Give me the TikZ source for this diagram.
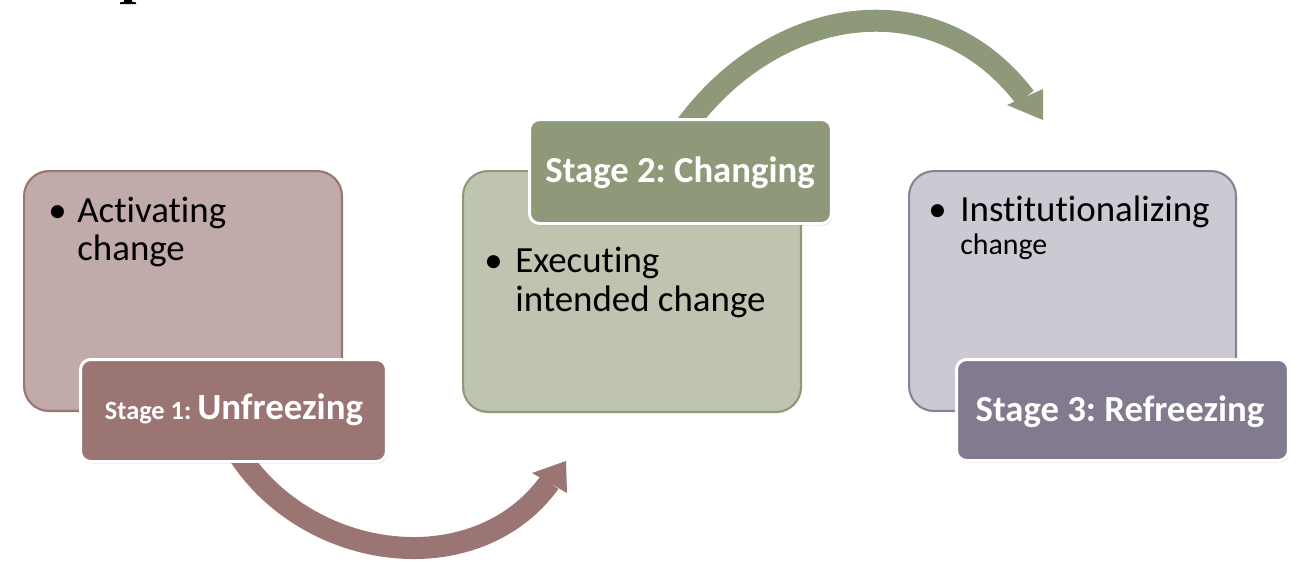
\documentclass[tikz,border=0pt]{standalone}
\usepackage{fontspec}
\setmainfont{Carlito}[Ligatures=NoCommon]
\usetikzlibrary{shadows}
\definecolor{rosefill}{HTML}{C1AAAA}
\definecolor{roseline}{HTML}{9B7574}
\definecolor{rosedark}{HTML}{9B7573}
\definecolor{sagefill}{HTML}{BEC4B0}
\definecolor{sageline}{HTML}{8E9979}
\definecolor{sagedark}{HTML}{8E9979}
\definecolor{lilacfill}{HTML}{CDC9D3}
\definecolor{lilacline}{HTML}{8A8299}
\definecolor{lilacdark}{HTML}{827A8F}
\frenchspacing
\begin{document}
\begin{tikzpicture}[x=0.02cm,y=-0.02cm,
  bigbox/.style={draw, line width=1.2pt, rounded corners=0.5cm, anchor=north west, inner sep=0pt},
  stagebox/.style={draw=white, line width=1.7pt, rounded corners=0.2cm, inner sep=0pt,
    drop shadow={shadow xshift=0.6pt, shadow yshift=-1pt, opacity=0.35}},
  bodytext/.style={anchor=base west, inner sep=0pt, font=\fontsize{21pt}{24pt}\selectfont},
  smalltext/.style={anchor=base west, inner sep=0pt, font=\fontsize{17pt}{20pt}\selectfont},
  stagetext/.style={anchor=base, inner sep=0pt, text=white, font=\bfseries\fontsize{20.9pt}{24pt}\selectfont},
  band/.style={line width=0.44cm, line cap=butt}]
\useasboundingbox (0,0) rectangle (1303,562);
\fill[white] (0,0) rectangle (1303,562);

% fragment of a cropped heading at the top edge
\fill[black] (124,0) -- (132,0) -- (132,1.8) -- (136,2.4) -- (136,4) -- (120,4) -- (120,2.4) -- (124,1.8) -- cycle;

% curved arrows
\coordinate (a1s) at (233,445);
\coordinate (a1e) at (549.5,482.5);
\coordinate (h1l) at (532,473);
\coordinate (h1t) at (566,461);
\coordinate (h1r) at (567,493);
\draw[band, rosedark] (a1s) .. controls (300,562) and (474.5,586) .. (a1e);
\fill[rosedark] (h1l) -- (h1t) -- (h1r) -- cycle;

\coordinate (a2s) at (683,130);
\coordinate (a2e) at (1025,97.5);
\coordinate (h2l) at (1007,105);
\coordinate (h2t) at (1043,120);
\coordinate (h2r) at (1043,89);
\draw[band, sagedark] (a2s) .. controls (772,5) and (934,-22) .. (a2e);
\fill[sagedark] (h2l) -- (h2t) -- (h2r) -- cycle;

% big boxes
\node[bigbox, draw=roseline, fill=rosefill, minimum width=6.36cm, minimum height=4.8cm] (box1) at (23,170) {};
\node[bigbox, draw=sageline, fill=sagefill, minimum width=6.76cm, minimum height=4.82cm] (box2) at (462,170) {};
\node[bigbox, draw=lilacline, fill=lilacfill, minimum width=6.54cm, minimum height=4.8cm] (box3) at (908,170) {};

% body texts
\node[bodytext] (b1) at (48,222) {•};
\node[bodytext] (t1a) at (77,222) {Activating};
\node[bodytext] (t1b) at (77,260) {change};

\node[bodytext] (b2) at (484,272) {•};
\node[bodytext] (t2a) at (515,272) {Executing};
\node[bodytext] (t2b) at (515,311) {intended change};

\node[bodytext] (b3) at (928,221) {•};
\node[bodytext] (t3a) at (960,221) {Institutionalizing};
\node[smalltext] (t3b) at (960,254) {change};

% stage labels
\node[stagebox, fill=rosedark, minimum width=6.12cm, minimum height=2.04cm] (s1) at (233.5,410.5) {};
\node[stagebox, fill=sagedark, minimum width=6.04cm, minimum height=2.08cm] (s2) at (680.5,171.5) {};
\node[stagebox, fill=lilacdark, minimum width=6.64cm, minimum height=2.02cm] (s3) at (1122.5,410) {};

\node[stagetext] (l1) at (234,419) {{\fontsize{15pt}{17pt}\selectfont Stage 1: }{\fontsize{21pt}{24pt}\selectfont Unfreezing}};
\node[stagetext] (l2) at (680,182) {Stage 2: Changing};
\node[stagetext] (l3) at (1120,421) {Stage 3: Refreezing};
\end{tikzpicture}
\end{document}
